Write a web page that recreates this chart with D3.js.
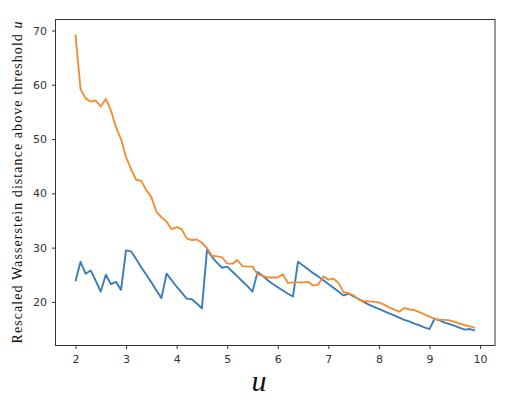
<!DOCTYPE html>
<html lang="en">
  <head>
    <meta charset="utf-8">
    <script src="https://cdn.jsdelivr.net/npm/d3@7"></script>
    <style>
      body { margin: 0; background: #fff; }
      .tick text { font-family: "DejaVu Sans", sans-serif; font-size: 11px; fill: #333; }
      .tick line, .domain { stroke: #333; }
    </style>
    <title></title>
  </head>
  <body>
    <script>
      var width = 518, height = 406;

      // thresholds u = 2.0 .. 9.9
      var thresholds = d3.range(20, 100).map(function(d){ return d / 10; });

      var blueValues = [
        23.8, 27.4, 25.2, 25.8, 23.9, 21.9, 25.0, 23.3, 23.7, 22.2,
        29.5, 29.3, 27.9, 26.4, 25.0, 23.6, 22.1, 20.7, 25.2, 24.0,
        22.8, 21.7, 20.6, 20.5, 19.7, 18.8, 29.6, 28.3, 27.2, 26.3,
        26.5, 25.6, 24.7, 23.8, 22.9, 21.9, 25.5, 24.8, 24.0, 23.3,
        22.7, 22.1, 21.5, 21.0, 27.4, 26.7, 26.0, 25.3, 24.7, 24.0,
        23.3, 22.6, 21.9, 21.2, 21.5, 21.0, 20.5, 20.0, 19.5, 19.1,
        18.7, 18.3, 17.9, 17.5, 17.1, 16.7, 16.4, 16.0, 15.7, 15.3,
        15.0, 16.9, 16.6, 16.2, 15.9, 15.6, 15.2, 14.9, 15.0, 14.7
      ];

      var orangeValues = [
        69.3, 59.2, 57.5, 56.9, 57.1, 56.0, 57.4, 55.3, 52.2, 50.0,
        46.7, 44.4, 42.5, 42.3, 40.6, 39.3, 36.6, 35.6, 34.8, 33.4,
        33.8, 33.4, 31.7, 31.4, 31.5, 30.9, 29.9, 28.5, 28.4, 28.2,
        27.1, 27.0, 27.7, 26.6, 26.5, 26.5, 25.1, 24.8, 24.5, 24.5,
        24.5, 25.1, 23.5, 23.6, 23.6, 23.6, 23.7, 23.0, 23.2, 24.7,
        24.1, 24.3, 23.5, 21.8, 21.6, 21.2, 20.4, 20.2, 20.1, 20.0,
        19.9, 19.5, 19.0, 18.6, 18.2, 18.9, 18.6, 18.5, 18.1, 17.7,
        17.3, 16.9, 16.7, 16.7, 16.6, 16.3, 16.0, 15.7, 15.5, 15.2
      ];

      var xTicks = [2, 3, 4, 5, 6, 7, 8, 9, 10];
      var yTicks = [20, 30, 40, 50, 60, 70];

      // plot box (window.top is reserved, so prefixed names)
      var plotLeft = 55.5, plotRight = 495, plotTop = 19.5, plotBottom = 345.5;

      // matplotlib-like 5% margins around the data
      var xExt = d3.extent(thresholds);
      var xPad = (xExt[1] - xExt[0]) * 0.05;
      var yExt = d3.extent(blueValues.concat(orangeValues));
      var yPad = (yExt[1] - yExt[0]) * 0.05;

      var x = d3.scaleLinear().domain([xExt[0] - xPad, xExt[1] + xPad]).range([plotLeft, plotRight]);
      var y = d3.scaleLinear().domain([yExt[0] - yPad, yExt[1] + yPad]).range([plotBottom, plotTop]);

      var svg = d3.select("body").append("svg").attr("width", width).attr("height", height);

      svg.append("g")
        .attr("transform", "translate(0," + plotBottom + ")")
        .call(d3.axisBottom(x).tickValues(xTicks).tickFormat(d3.format("d")).tickSize(3.5).tickPadding(6))
        .call(function(g){ g.select(".domain").remove(); });

      svg.append("g")
        .attr("transform", "translate(" + plotLeft + ",0)")
        .call(d3.axisLeft(y).tickValues(yTicks).tickFormat(d3.format("d")).tickSize(3.5).tickPadding(5))
        .call(function(g){ g.select(".domain").remove(); });

      var line = d3.line()
        .x(function(d){ return x(d[0]); })
        .y(function(d){ return y(d[1]); });

      var series = [
        { values: blueValues, color: "#3a7dbd" },
        { values: orangeValues, color: "#f28e35" }
      ];

      svg.append("g").selectAll("path")
        .data(series)
        .enter().append("path")
          .attr("d", function(s){ return line(thresholds.map(function(t, i){ return [t, s.values[i]]; })); })
          .attr("fill", "none")
          .attr("stroke", function(s){ return s.color; })
          .attr("stroke-width", 1.9)
          .attr("stroke-linejoin", "round");

      svg.append("rect")
        .attr("x", plotLeft).attr("y", plotTop)
        .attr("width", plotRight - plotLeft).attr("height", plotBottom - plotTop)
        .attr("fill", "none").attr("stroke", "#333").attr("stroke-width", 1);

      // y label, LaTeX-ish serif
      var yl = svg.append("text")
        .attr("transform", "translate(22," + ((plotTop + plotBottom) / 2) + ") rotate(-90)")
        .attr("text-anchor", "middle")
        .attr("font-family", "Liberation Serif, serif")
        .attr("font-size", 14)
        .attr("fill", "#111")
        .attr("textLength", 322)
        .attr("lengthAdjust", "spacing");
      yl.append("tspan").text("Rescaled Wasserstein distance above threshold ");
      yl.append("tspan").attr("font-style", "italic").text("u");

      svg.append("text")
        .attr("x", 259).attr("y", 391)
        .attr("text-anchor", "middle")
        .attr("font-family", "Liberation Serif, serif")
        .attr("font-style", "italic")
        .attr("font-size", 30)
        .attr("fill", "#111")
        .text("u");
    </script>
  </body>
</html>
